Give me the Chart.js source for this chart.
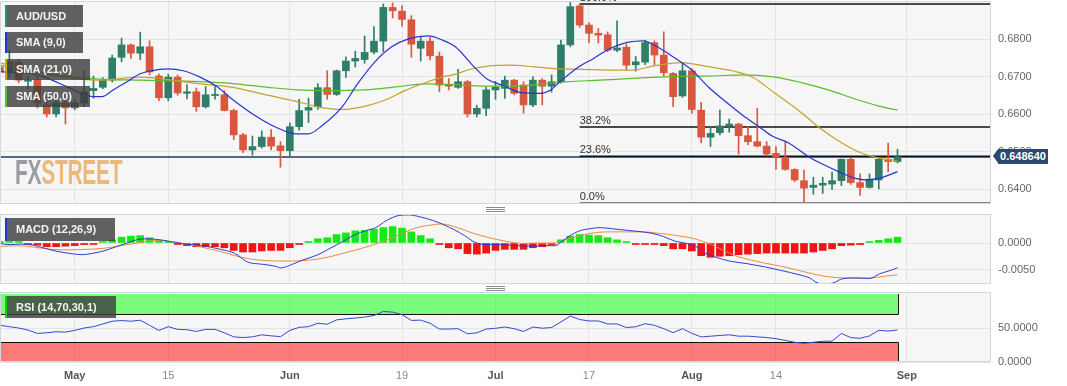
<!DOCTYPE html>
<html>
<head>
<meta charset="utf-8">
<script src="https://cdn.jsdelivr.net/npm/chart.js@4.4.1/dist/chart.umd.min.js"></script>
<style>
html,body{margin:0;padding:0;background:#fff;}
#wrap{position:relative;width:1067px;height:386px;overflow:hidden;font-family:"Liberation Sans",Arial,sans-serif;}
canvas{position:absolute;left:0;}
.lbl{position:absolute;left:5px;background:rgba(62,62,62,0.82);color:#f4f4f4;font-weight:bold;font-size:11px;padding-left:9px;box-sizing:border-box;border-left:2.5px solid;white-space:nowrap;}
#wm{position:absolute;left:15px;top:152px;font-family:"Liberation Sans","DejaVu Sans Condensed",sans-serif;font-weight:bold;font-size:35px;line-height:40px;letter-spacing:-0.5px;white-space:nowrap;transform:scaleX(0.6);transform-origin:0 0;}
.hdl{position:absolute;left:486px;width:19px;height:1px;background:#8a8a8a;}
#tag{position:absolute;left:998px;width:50px;height:15px;background:#2c4a6e;color:#fff;font-weight:bold;font-size:11px;line-height:15px;text-align:center;}
#tagArrow{position:absolute;left:993px;width:0;height:0;border-top:7.5px solid transparent;border-bottom:7.5px solid transparent;border-right:5px solid #2c4a6e;}
</style>
</head>
<body>
<div id="wrap">
  <canvas id="cMain" width="1067" height="206" style="top:0px"></canvas>
  <canvas id="cMacd" width="1067" height="74" style="top:212px"></canvas>
  <canvas id="cRsi" width="1067" height="96" style="top:290px"></canvas>

  <div id="wm"><span style="color:#9b9ba4">FX</span><span style="color:#ecb97b">STREET</span></div>

  <div class="lbl" style="top:5px;width:78px;height:22px;line-height:22px;border-left-color:#2e8b74">AUD/USD</div>
  <div class="lbl" style="top:32px;width:78px;height:21px;line-height:21px;border-left-color:#1f35e0">SMA (9,0)</div>
  <div class="lbl" style="top:59px;width:85px;height:21px;line-height:21px;border-left-color:#c9a800">SMA (21,0)</div>
  <div class="lbl" style="top:86px;width:85px;height:21px;line-height:21px;border-left-color:#52c020">SMA (50,0)</div>
  <div class="lbl" style="top:218px;width:110px;height:23px;line-height:23px;border-left-color:#1f35e0">MACD (12,26,9)</div>
  <div class="lbl" style="top:296px;width:111px;height:22px;line-height:22px;border-left-color:#10d010">RSI (14,70,30,1)</div>

  <div class="hdl" style="top:207px"></div><div class="hdl" style="top:209px"></div><div class="hdl" style="top:211px"></div>
  <div class="hdl" style="top:286px"></div><div class="hdl" style="top:288px"></div><div class="hdl" style="top:290px"></div>

  <div id="tagArrow"></div>
  <div id="tag">0.648640</div>
</div>
<script>
// ---------------- DATA ----------------
const tickIdx  = [8, 18, 31, 43, 53, 63, 74, 83, 97];
const tickText = ['May', '15', 'Jun', '19', 'Jul', '17', 'Aug', '14', 'Sep'];

const opens = [0.6726,0.6713,0.6739,0.6688,0.6692,0.6625,0.6601,0.6630,0.6617,0.6630,
0.6663,0.6672,0.6691,0.6752,0.6785,0.6763,0.6780,0.6702,0.6644,0.6699,
0.6656,0.6660,0.6620,0.6650,0.6652,0.6610,0.6545,0.6505,0.6514,0.6539,
0.6516,0.6503,0.6567,0.6611,0.6620,0.6671,0.6653,0.6716,0.6742,0.6746,
0.6766,0.6795,0.6885,0.6875,0.6852,0.6776,0.6795,0.6755,0.6680,0.6672,
0.6687,0.6601,0.6616,0.6665,0.6669,0.6691,0.6678,0.6625,0.6691,0.6675,
0.6687,0.6785,0.6889,0.6838,0.6816,0.6812,0.6771,0.6779,0.6732,0.6739,
0.6791,0.6758,0.6709,0.6649,0.6716,0.6611,0.6539,0.6551,0.6569,0.6574,
0.6543,0.6527,0.6515,0.6496,0.6485,0.6453,0.6423,0.6405,0.6411,0.6414,
0.6423,0.6480,0.6418,0.6405,0.6425,0.6480,0.6474];
const highs = [0.6738,0.6771,0.6746,0.6702,0.6700,0.6633,0.6637,0.6638,0.6638,0.6718,
0.6702,0.6698,0.6758,0.6803,0.6788,0.6819,0.6796,0.6707,0.6707,0.6705,
0.6679,0.6670,0.6674,0.6674,0.6663,0.6614,0.6549,0.6542,0.6556,0.6559,
0.6527,0.6577,0.6640,0.6643,0.6682,0.6716,0.6718,0.6753,0.6768,0.6809,
0.6834,0.6894,0.6897,0.6889,0.6863,0.6806,0.6805,0.6766,0.6695,0.6720,
0.6690,0.6624,0.6672,0.6688,0.6702,0.6693,0.6687,0.6700,0.6695,0.6705,
0.6798,0.6898,0.6894,0.6844,0.6829,0.6820,0.6849,0.6787,0.6754,0.6798,
0.6796,0.6820,0.6711,0.6738,0.6722,0.6632,0.6567,0.6611,0.6587,0.6576,
0.6567,0.6616,0.6527,0.6514,0.6527,0.6455,0.6451,0.6432,0.6432,0.6446,
0.6481,0.6483,0.6441,0.6441,0.6483,0.6523,0.6507];
const lows = [0.6705,0.6700,0.6684,0.6668,0.6617,0.6593,0.6593,0.6574,0.6612,0.6620,
0.6643,0.6668,0.6686,0.6740,0.6749,0.6746,0.6705,0.6636,0.6636,0.6651,
0.6641,0.6608,0.6617,0.6640,0.6609,0.6532,0.6498,0.6491,0.6510,0.6505,
0.6459,0.6485,0.6558,0.6578,0.6613,0.6640,0.6650,0.6698,0.6726,0.6736,
0.6761,0.6767,0.6857,0.6835,0.6752,0.6742,0.6745,0.6660,0.6665,0.6669,
0.6593,0.6593,0.6596,0.6640,0.6642,0.6652,0.6603,0.6620,0.6625,0.6659,
0.6683,0.6780,0.6832,0.6790,0.6790,0.6767,0.6767,0.6718,0.6715,0.6732,
0.6732,0.6702,0.6620,0.6645,0.6603,0.6524,0.6514,0.6545,0.6552,0.6494,
0.6519,0.6513,0.6489,0.6453,0.6451,0.6420,0.6363,0.6387,0.6389,0.6400,
0.6410,0.6413,0.6384,0.6403,0.6401,0.6447,0.6470];
const closes = [0.6713,0.6739,0.6691,0.6692,0.6630,0.6601,0.6630,0.6617,0.6630,0.6660,
0.6669,0.6691,0.6750,0.6785,0.6763,0.6780,0.6713,0.6644,0.6699,0.6657,
0.6660,0.6620,0.6652,0.6653,0.6610,0.6545,0.6505,0.6514,0.6539,0.6515,
0.6503,0.6567,0.6610,0.6618,0.6671,0.6653,0.6716,0.6742,0.6749,0.6765,
0.6795,0.6885,0.6876,0.6853,0.6787,0.6795,0.6756,0.6678,0.6675,0.6687,
0.6601,0.6616,0.6665,0.6672,0.6691,0.6656,0.6625,0.6691,0.6675,0.6687,
0.6785,0.6887,0.6838,0.6816,0.6811,0.6771,0.6777,0.6731,0.6740,0.6791,
0.6758,0.6711,0.6647,0.6716,0.6613,0.6539,0.6549,0.6569,0.6574,0.6543,
0.6527,0.6515,0.6494,0.6487,0.6453,0.6425,0.6403,0.6411,0.6416,0.6423,
0.6480,0.6418,0.6405,0.6427,0.6480,0.6474,0.64864];

// moving averages as [candle index, value]
const sma9 = [[0,0.6714],[4,0.6705],[7.2,0.6673],[8.9,0.6654],[10,0.6647],[10.9,0.6647],[12.1,0.6665],[13.6,0.6687],[15,0.6708],[16.1,0.6716],[18,0.6721],[19.6,0.6716],[21.4,0.6699],[23.2,0.6674],[24.6,0.6645],[26.9,0.6603],[29.4,0.6567],[31.6,0.6548],[33,0.6548],[34.4,0.6569],[36.6,0.6620],[38.3,0.6683],[40.1,0.6740],[41.9,0.6780],[43.7,0.6801],[45.8,0.6809],[47.3,0.6798],[48.7,0.6780],[50.7,0.6727],[52.1,0.6694],[53.9,0.6676],[55.7,0.6658],[57.8,0.6656],[58.9,0.6665],[59.9,0.6687],[61.7,0.6723],[63.5,0.6749],[65.3,0.6776],[67.1,0.6792],[68.8,0.6796],[70.3,0.6780],[71.7,0.6758],[74,0.6718],[75.8,0.6672],[77.6,0.6634],[79.4,0.6598],[81.2,0.6567],[82.6,0.6542],[84.4,0.6523],[86.5,0.6487],[87.9,0.6468],[89.7,0.6447],[91.5,0.6429],[92.6,0.6425],[94,0.6429],[96,0.6447]];
const sma21 = [[0,0.6737],[4,0.6713],[7.2,0.6697],[10.7,0.6691],[15,0.6699],[16.1,0.6698],[21.4,0.6681],[24.9,0.6672],[28.6,0.6651],[31.8,0.6634],[34,0.6620],[36.6,0.6613],[39.1,0.6622],[41.2,0.6638],[43.3,0.6663],[45.5,0.6684],[47.3,0.6699],[48.7,0.6707],[50.3,0.6720],[52.4,0.6729],[54.3,0.6731],[57,0.6727],[59.6,0.6721],[62.4,0.6720],[65.3,0.6718],[67.7,0.6718],[69.9,0.6729],[72.8,0.6738],[75.8,0.6727],[78.3,0.6716],[80.5,0.6699],[82.9,0.6656],[85.4,0.6611],[87.5,0.6567],[90.1,0.6523],[92.2,0.6496],[94,0.6483],[96,0.6476]];
const sma50 = [[0,0.6731],[4,0.6713],[8,0.6699],[10.7,0.6694],[15,0.6691],[21.4,0.6687],[24.9,0.6682],[28.6,0.6672],[31.8,0.6665],[34.8,0.6663],[39.1,0.6665],[42.6,0.6674],[45.5,0.6681],[48.7,0.6679],[51.7,0.6675],[55.3,0.6675],[58.9,0.6683],[60.7,0.6687],[64.2,0.6691],[67.7,0.6696],[72.8,0.6701],[75.8,0.6702],[79.4,0.6705],[82.9,0.6699],[85.8,0.6684],[88.6,0.6665],[91.8,0.6638],[94,0.6622],[96,0.6611]];

const lastPrice = 0.648640;
const fibHigh = 0.6894, fibLow = 0.6363, fibStartIdx = 62;
const fibLevels = [0, 23.6, 38.2, 100];
const mainTicks = [0.64, 0.65, 0.66, 0.67, 0.68];

// MACD (12,26,9)
const macdHist = [0.0003,0.0003,0.0002,-0.0003,-0.0004,-0.0007,-0.0007,-0.0006,-0.0005,-0.0003,
-0.0002,0.0001,0.0006,0.0011,0.0013,0.0014,0.0010,0.00045,0.0002,-0.0002,
-0.0005,-0.0007,-0.0007,-0.0007,-0.0009,-0.0014,-0.0017,-0.0017,-0.0015,-0.0014,
-0.0014,-0.0009,-0.0002,0.0001,0.0008,0.0010,0.0016,0.0019,0.0023,0.0024,
0.0026,0.0029,0.0031,0.0028,0.0021,0.0014,0.0008,-0.0001,-0.0009,-0.0011,
-0.0020,-0.0021,-0.0019,-0.0014,-0.0012,-0.0012,-0.0012,-0.0009,-0.0007,-0.0003,
0.0006,0.0013,0.0016,0.0015,0.0014,0.0010,0.0006,0.0001,-0.0001,-0.0001,
-0.0002,-0.0005,-0.0011,-0.0011,-0.0015,-0.0024,-0.0027,-0.0025,-0.0024,-0.0022,
-0.0021,-0.0020,-0.0019,-0.0019,-0.0019,-0.0019,-0.0019,-0.0017,-0.0014,-0.0011,
-0.0005,-0.0004,-0.0003,0.0001,0.0005,0.0008,0.0011];
const macdLine = [[0,-0.0001],[1.1,-0.0003],[2.2,-0.0002],[3.7,-0.00045],[4.8,-0.001],[5.9,-0.0015],[7.4,-0.00195],[8.8,-0.0022],[9.9,-0.00195],[11.1,-0.0015],[12.5,-0.00065],[13.6,0],[14.7,0.00065],[15.8,0.00078],[16.9,0.00065],[18.1,0.00032],[19.5,-0.00013],[20.6,-0.0003],[22.1,-0.00065],[23.6,-0.0012],[25.1,-0.00195],[26.5,-0.0036],[28,-0.004],[29.5,-0.0044],[30,-0.0047],[31.3,-0.004],[32.4,-0.0032],[33.9,-0.0023],[35,-0.0013],[36.5,0.00013],[38,0.0016],[39.1,0.0023],[40.2,0.0029],[41.3,0.0042],[42.7,0.0052],[43.7,0.0053],[45,0.0049],[46.4,0.0042],[47.5,0.0034],[48.6,0.0025],[49.7,0.0014],[50.8,0.00013],[52,-0.0003],[53.1,-0.0003],[55.3,-0.0005],[57,-0.0006],[58.3,-0.0005],[59.4,-0.0005],[60.1,0.0003],[60.9,0.0013],[62,0.0023],[63.1,0.0027],[64.2,0.0029],[65.4,0.0027],[66.5,0.0025],[67.6,0.0023],[68.7,0.0021],[69.8,0.0018],[71,0.0012],[72.1,0.0004],[73.2,0],[74.3,-0.0005],[75.4,-0.0019],[76.6,-0.0027],[78,-0.0034],[79.9,-0.0039],[81.8,-0.0045],[83.6,-0.0052],[85.5,-0.006],[86.6,-0.0066],[87.4,-0.0075],[88.1,-0.0077],[89.2,-0.0075],[90,-0.0068],[91.5,-0.0066],[93,-0.0067],[94.1,-0.0058],[95.2,-0.0052],[96,-0.0047]];
const macdSignal = [[0,-0.00065],[1.8,-0.0005],[3.7,-0.0008],[5.5,-0.0012],[7.4,-0.0013],[9.2,-0.0012],[11.1,-0.001],[12.9,-0.0005],[14.7,0],[16.6,0.00045],[18.4,0.00026],[20.3,-0.0003],[22.1,-0.001],[24,-0.0018],[25.8,-0.0027],[27.6,-0.0032],[29.5,-0.0034],[31.3,-0.0034],[33.2,-0.0032],[35,-0.0027],[36.8,-0.0019],[38.7,-0.001],[40.5,0],[42.4,0.0013],[44.2,0.0027],[46.1,0.0034],[47.2,0.0036],[48.6,0.0031],[50.5,0.0019],[52.3,0.001],[54.2,0.0003],[56,-0.0001],[57.5,0],[59.4,0],[60.5,0.0006],[62,0.0014],[63.1,0.0018],[65,0.0021],[66.8,0.0021],[68.7,0.0021],[70.6,0.0018],[72.4,0.0014],[74.3,0.0008],[75.8,-0.0001],[77.3,-0.0013],[78.8,-0.0025],[80.3,-0.0032],[81.8,-0.0038],[83.6,-0.0044],[85.5,-0.0052],[87.4,-0.006],[89.2,-0.0065],[91.1,-0.0066],[93,-0.0066],[94.5,-0.0063],[96,-0.006]];
const macdTicks = [-0.005, 0];

// RSI (14,70,30,1)
const rsiVals = [54,52,50,47,42,43,44.5,44,46.5,50,
52,56,60,61,60,61.5,54,46.5,52,48,
47.5,45,48,48,43,37,36,37,40,38.5,
37.3,46.5,51,52,57,55.6,62,63.5,64.7,66,
68.5,74.3,73.4,69.7,61.2,61.6,57,48.5,48.5,49,
41.5,42.9,48.5,49.6,51.5,49,45,51.5,49.7,50.7,
59,67.6,62.5,60.4,60.4,56,56,50.7,51.8,56.3,
54,49,43.1,49.1,42.1,36.9,38,39,40,38,
38,37,36,34.3,31.8,29,27.6,29,30.5,30.7,
42,35.9,34.9,38.4,46.6,45.6,47.1];
const rsiTicks = [0, 50];
const rsiUpper = 70, rsiLower = 30;

// ---------------- STYLE ----------------
const FONT = '"Liberation Sans", Arial, sans-serif';
const PLOT_BG = '#f6f6f7', BORDER = '#d3d6de', GRID = '#e4e4e6';
const UP = '#2f7e69', DN = '#d9573f';
const X_MIN = 0, X_MAX = 106, AXIS_W = 76;

Chart.defaults.font.family = FONT;
Chart.defaults.font.size = 11;
Chart.defaults.animation = false;
Chart.defaults.responsive = false;
Chart.defaults.plugins.legend.display = false;
Chart.defaults.plugins.tooltip.enabled = false;

const noPad = (s) => { s.paddingTop = 0; s.paddingBottom = 0; s.paddingLeft = 0; s.paddingRight = 0; };

function xScale(showLabels, h) {
  return {
    type: 'linear', min: X_MIN, max: X_MAX, offset: false,
    grid: { color: GRID, drawTicks: false, offset: false },
    border: { display: false },
    ticks: {
      display: showLabels, autoSkip: false, maxRotation: 0, padding: 7,
      color: (c) => isNaN(+tickText[c.index]) ? '#555' : '#8a8a8a',
      font: (c) => ({ family: FONT, size: 11, weight: isNaN(+tickText[c.index]) ? 'bold' : 'normal' }),
      callback: (v, i) => tickText[i]
    },
    afterBuildTicks: (s) => { s.ticks = tickIdx.map(v => ({ value: v })); },
    afterFit: (s) => { s.height = h; noPad(s); }
  };
}
function yScale(min, max, ticks, dec) {
  return {
    position: 'right', min: min, max: max,
    grid: { color: GRID, drawTicks: false },
    border: { display: false },
    ticks: { padding: 7, color: '#666', font: { family: FONT, size: 11 }, callback: (v) => v.toFixed(dec) },
    afterBuildTicks: (s) => { s.ticks = ticks.map(v => ({ value: v })); },
    afterFit: (s) => { s.width = AXIS_W; noPad(s); }
  };
}
const panelDeco = {
  id: 'panelDeco',
  beforeDraw(c) {
    const a = c.chartArea, x = c.ctx;
    x.save(); x.fillStyle = PLOT_BG; x.fillRect(a.left, a.top, a.right - a.left, a.bottom - a.top); x.restore();
  },
  afterDraw(c) {
    const a = c.chartArea, x = c.ctx;
    x.save(); x.strokeStyle = BORDER; x.lineWidth = 1;
    x.strokeRect(a.left + 0.5, a.top + 0.5, a.right - a.left - 1, a.bottom - a.top - 1);
    x.restore();
  }
};
const pts = (arr) => arr.map(p => ({ x: p[0], y: p[1] }));
const lineDs = (arr, col, w) => ({ type: 'line', data: pts(arr), borderColor: col, borderWidth: w, pointRadius: 0, cubicInterpolationMode: 'monotone', order: 0 });
const idx = opens.map((_, i) => i);
const isUp = (i) => closes[i] >= opens[i];

// ---------------- MAIN PANEL ----------------
const mainLines = {
  id: 'mainLines',
  beforeDatasetsDraw(c) {
    const x = c.ctx, a = c.chartArea, xs = c.scales.x, ys = c.scales.y;
    x.save();
    x.beginPath(); x.rect(a.left, 0, a.right - a.left, a.bottom); x.clip();
    const py = ys.getPixelForValue(lastPrice);
    x.strokeStyle = '#1e3a5c'; x.lineWidth = 1.5;
    x.beginPath(); x.moveTo(a.left, py); x.lineTo(a.right, py); x.stroke();
    const fx = xs.getPixelForValue(fibStartIdx);
    x.font = '11px ' + FONT; x.fillStyle = '#333'; x.textAlign = 'left'; x.textBaseline = 'alphabetic';
    fibLevels.forEach(l => {
      const v = fibLow + (fibHigh - fibLow) * l / 100;
      const y = ys.getPixelForValue(v);
      x.strokeStyle = '#111'; x.lineWidth = 1.5;
      x.beginPath(); x.moveTo(fx, y); x.lineTo(a.right, y); x.stroke();
      x.fillText(l.toFixed(1) + '%', fx, y - 3);
    });
    x.restore();
  },
  afterRender(c) {
    const py = c.scales.y.getPixelForValue(lastPrice);
    document.getElementById('tag').style.top = (py - 7.5) + 'px';
    document.getElementById('tagArrow').style.top = (py - 7.5) + 'px';
  }
};
new Chart(document.getElementById('cMain'), {
  type: 'bar',
  data: { datasets: [
    lineDs(sma9, '#2536d0', 1.2),
    lineDs(sma21, '#c4a32c', 1.2),
    lineDs(sma50, '#5abd2c', 1.2),
    { data: idx.map(i => ({ x: i, y: [opens[i], closes[i]] })), backgroundColor: (c) => isUp(c.dataIndex) ? UP : DN,
      barThickness: 7, minBarLength: 1, grouped: false, order: 1 },
    { data: idx.map(i => ({ x: i, y: [lows[i], highs[i]] })), backgroundColor: (c) => isUp(c.dataIndex) ? UP : DN,
      barThickness: 1, grouped: false, order: 2 }
  ]},
  options: {
    layout: { padding: { top: 1, bottom: 2, left: 0, right: 0 } },
    scales: { x: xScale(false, 0), y: yScale(0.63608, 0.69021, mainTicks, 4) }
  },
  plugins: [panelDeco, mainLines]
});

// ---------------- MACD PANEL ----------------
new Chart(document.getElementById('cMacd'), {
  type: 'bar',
  data: { datasets: [
    lineDs(macdLine, '#2b3fd8', 1),
    lineDs(macdSignal, '#f08a3c', 1),
    { data: macdHist.map((v, i) => ({ x: i, y: v })), backgroundColor: (c) => macdHist[c.dataIndex] >= 0 ? '#16ea16' : '#f01414',
      barThickness: 7, minBarLength: 1.5, grouped: false, order: 2 }
  ]},
  options: {
    layout: { padding: { top: 2, bottom: 2, left: 0, right: 0 } },
    scales: { x: xScale(false, 0), y: yScale(-0.007736, 0.005472, macdTicks, 4) }
  },
  plugins: [panelDeco]
});

// ---------------- RSI PANEL ----------------
const rsiBands = {
  id: 'rsiBands',
  beforeDatasetsDraw(c) {
    const x = c.ctx, a = c.chartArea, xs = c.scales.x, ys = c.scales.y;
    const l = a.left + 0.5, r = Math.round(xs.getPixelForValue(rsiVals.length - 1)) + 0.5;
    const g1 = ys.getPixelForValue(100), g2 = Math.round(ys.getPixelForValue(rsiUpper)) + 0.5;
    const r1 = Math.round(ys.getPixelForValue(rsiLower)) + 0.5, r2 = ys.getPixelForValue(0);
    x.save();
    x.fillStyle = 'rgba(0,255,0,0.5)'; x.fillRect(l, g1, r - l, g2 - g1);
    x.fillStyle = 'rgba(255,0,0,0.5)'; x.fillRect(l, r1, r - l, r2 - r1);
    x.strokeStyle = '#111'; x.lineWidth = 1;
    x.beginPath(); x.moveTo(l, g1); x.lineTo(l, g2); x.lineTo(r, g2); x.lineTo(r, g1); x.stroke();
    x.beginPath(); x.moveTo(l, r2); x.lineTo(l, r1); x.lineTo(r, r1); x.lineTo(r, r2); x.stroke();
    x.restore();
  }
};
new Chart(document.getElementById('cRsi'), {
  type: 'line',
  data: { datasets: [
    { data: rsiVals.map((v, i) => ({ x: i, y: v })), borderColor: '#3447d2', borderWidth: 1, pointRadius: 0, tension: 0 }
  ]},
  options: {
    layout: { padding: { top: 2, bottom: 0, left: 0, right: 0 } },
    scales: { x: xScale(true, 24), y: yScale(0, 103, rsiTicks, 4) }
  },
  plugins: [panelDeco, rsiBands]
});
</script>
</body>
</html>
